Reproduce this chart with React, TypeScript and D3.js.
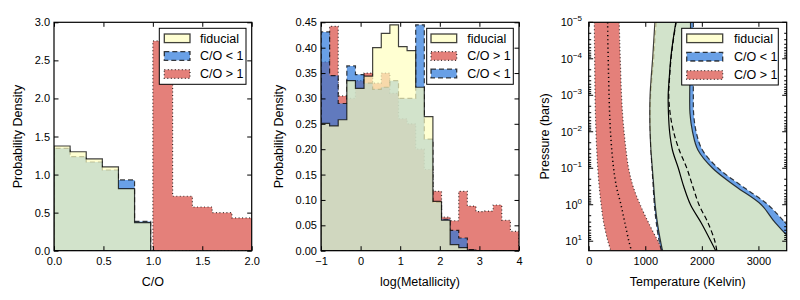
import React, { useEffect, useRef } from "react";
import * as d3 from "d3";

const FONT = "'Liberation Sans', Arial, Helvetica, sans-serif";
const TOP = 22.3;
const BOTTOM = 250.7;

// colours (matplotlib-like, drawn with alpha)
const YELLOW = "#ffffbf";
const BLUE = "#2a77db";
const RED = "#d84a41";
const ALPHA = 0.7;
const DASH = "5,3";
const DOT = "1,2.5";

// ---- panel 1: C/O histograms
const coTicks = [0, 0.5, 1, 1.5, 2];
const coYTicks = [0, 0.5, 1, 1.5, 2, 2.5, 3];
const coEdges = [0, 0.163, 0.326, 0.489, 0.652, 0.815, 0.978];
const coFid = [1.375, 1.3, 1.205, 1.1, 0.815, 0.37];
const coLow = [1.345, 1.235, 1.165, 1.06, 0.93, 0.385];
const coHighEdges = [1.0, 1.2, 1.4, 1.6, 1.8, 2.0, 2.2];
const coHigh = [2.755, 0.715, 0.574, 0.5, 0.43, 0.4];

// ---- panel 2: log(Metallicity) histograms
const metTicks = [-1, 0, 1, 2, 3, 4];
const metYTicks = [0, 0.05, 0.1, 0.15, 0.2, 0.25, 0.3, 0.35, 0.4, 0.45];
const metEdges = [-1, -0.783, -0.565, -0.348, -0.13, 0.087, 0.304, 0.522, 0.739, 0.957, 1.174, 1.391, 1.609, 1.826, 2.043, 2.261, 2.478, 2.696, 2.913, 3.13, 3.348, 3.565, 3.783, 4.0];
const metFid = [0.251, 0.246, 0.258, 0.335, 0.32, 0.344, 0.4, 0.428, 0.445, 0.402, 0.394, 0.322, 0.264, 0.097, 0.06, 0.012, 0.006, 0.001, 0, 0, 0, 0, 0];
const metLow = [0.431, 0.345, 0.29, 0.364, 0.347, 0.33, 0.318, 0.322, 0.335, 0.3, 0.3, 0.445, 0.22, 0.095, 0.062, 0.04, 0.025, 0.002, 0, 0, 0, 0, 0];
const metHigh = [0.372, 0.442, 0.305, 0.3, 0.335, 0.35, 0.33, 0.35, 0.31, 0.26, 0.25, 0.2, 0.16, 0.117, 0.066, 0.059, 0.117, 0.088, 0.077, 0.078, 0.09, 0.06, 0.038];

// ---- panel 3: T-P profiles (log10 pressure levels, temperatures in K)
const tTicks = [0, 1000, 2000, 3000];
const pExp = [-5, -4, -3, -2, -1, 0, 1];
const logP = [-5, -4.5, -4, -3.5, -3, -2.5, -2, -1.5, -1, -0.5, 0, 0.5, 1, 1.26];
const highLeft = [100, 102, 105, 108, 112, 119, 128, 142, 160, 185, 220, 265, 340, 390];
const highMed = [335, 338, 345, 352, 360, 370, 385, 408, 440, 490, 570, 640, 710, 755];
const highRight = [540, 548, 558, 568, 580, 598, 625, 660, 705, 785, 910, 1060, 1225, 1316];
const fidLeft = [1170, 1150, 1130, 1105, 1085, 1080, 1085, 1100, 1125, 1150, 1175, 1215, 1270, 1305];
const fidMed = [1540, 1490, 1450, 1425, 1405, 1410, 1430, 1480, 1585, 1680, 1800, 1990, 2160, 2245];
const fidRight = [1800, 1800, 1795, 1790, 1785, 1790, 1835, 1930, 2190, 2600, 3050, 3300, 3620, 3900];
const lowLeft = [1195, 1170, 1150, 1120, 1095, 1088, 1090, 1100, 1120, 1140, 1160, 1195, 1245, 1285];
const lowMed = [1545, 1495, 1455, 1430, 1415, 1440, 1500, 1600, 1735, 1840, 1950, 2110, 2230, 2265];
const lowRight = [1850, 1850, 1850, 1850, 1850, 1855, 1900, 2010, 2290, 2720, 3170, 3480, 3800, 4000];

const stepPoints = (edges: number[], vals: number[]) => {
  const pts: [number, number][] = [[edges[0], 0]];
  vals.forEach((v, i) => {
    pts.push([edges[i], v]);
    pts.push([edges[i + 1], v]);
  });
  pts.push([edges[edges.length - 1], 0]);
  return pts;
};

const Hist = ({ edges, vals, x, y, color, dash }: any) => {
  const line = d3.line<[number, number]>().x((d) => x(d[0])).y((d) => y(d[1]));
  return (
    <path
      d={line(stepPoints(edges, vals)) + "Z"}
      fill={color}
      fillOpacity={ALPHA}
      stroke="#000"
      strokeOpacity={0.75}
      strokeWidth={1.2}
      strokeDasharray={dash}
    />
  );
};

const AxisG = ({ axis, transform }: any) => {
  const ref = useRef<SVGGElement>(null);
  useEffect(() => {
    const g = d3.select(ref.current);
    g.selectAll("*").remove();
    g.call(axis);
    g.select(".domain").remove();
    g.attr("font-size", 11).attr("font-family", FONT);
    g.selectAll("line").attr("stroke", "#000");
    g.selectAll("text").attr("fill", "#000");
  });
  return <g ref={ref} transform={transform} />;
};

const Frame = ({ x, y, xTicks, yTicks, xFmt, yFmt }: any) => {
  const [l, r] = x.range();
  const tl = 4.5;
  return (
    <g>
      <AxisG transform={`translate(0,${BOTTOM})`} axis={d3.axisBottom(x).tickValues(xTicks).tickFormat(xFmt).tickSize(-tl).tickPadding(7)} />
      <AxisG transform={`translate(0,${TOP})`} axis={d3.axisTop(x).tickValues(xTicks).tickFormat(() => "").tickSize(-tl)} />
      {yTicks && (
        <AxisG transform={`translate(${l},0)`} axis={d3.axisLeft(y).tickValues(yTicks).tickFormat(yFmt).tickSize(-tl).tickPadding(4)} />
      )}
      {yTicks && (
        <AxisG transform={`translate(${r},0)`} axis={d3.axisRight(y).tickValues(yTicks).tickFormat(() => "").tickSize(-tl)} />
      )}
      <rect x={l} y={TOP} width={r - l} height={BOTTOM - TOP} fill="none" stroke="#000" strokeWidth={1.2} />
    </g>
  );
};

const Legend = ({ x0, x1, y0, y1, patchX, patchW, textX, rows, entries }: any) => (
  <g fontFamily={FONT} fontSize={12.5}>
    <rect x={x0} y={y0} width={x1 - x0} height={y1 - y0} fill="#fff" stroke="#000" strokeWidth={1} />
    {entries.map((e: any, i: number) => (
      <g key={e.label}>
        <rect
          x={patchX}
          y={rows[i] - 4.3}
          width={patchW}
          height={8.6}
          fill={e.color}
          fillOpacity={ALPHA}
          stroke="#000"
          strokeOpacity={0.75}
          strokeWidth={1.3}
          strokeDasharray={e.dash}
        />
        <text x={textX} y={rows[i] + 4.4} fill="#000">
          {e.label}
        </text>
      </g>
    ))}
  </g>
);

const fidEntry = { label: "fiducial", color: YELLOW, dash: undefined };
const lowEntry = { label: "C/O < 1", color: BLUE, dash: DASH };
const highEntry = { label: "C/O > 1", color: RED, dash: DOT };

const YLabel = ({ x, text }: any) => (
  <text
    transform={`translate(${x},${(TOP + BOTTOM) / 2}) rotate(-90)`}
    textAnchor="middle"
    fontFamily={FONT}
    fontSize={12.5}
    fill="#000"
  >
    {text}
  </text>
);

const XLabel = ({ x, text }: any) => (
  <text x={x} y={286} textAnchor="middle" fontFamily={FONT} fontSize={12.5} fill="#000">
    {text}
  </text>
);

const App = () => {
  // panel 1
  const x1 = d3.scaleLinear().domain([0, 2]).range([54, 251.7]);
  const y1 = d3.scaleLinear().domain([0, 3]).range([BOTTOM, TOP]);
  // panel 2
  const x2 = d3.scaleLinear().domain([-1, 4]).range([321, 519]);
  const y2 = d3.scaleLinear().domain([0, 0.45]).range([BOTTOM, TOP]);
  // panel 3
  const x3 = d3.scaleLinear().domain([0, 3500]).range([588.7, 786.7]);
  const y3 = d3.scaleLog().domain([1e-5, 10 ** 1.26]).range([TOP, BOTTOM]);

  const idx = d3.range(logP.length);
  const band = (left: number[], right: number[]) =>
    d3
      .area<number>()
      .curve(d3.curveCatmullRom)
      .y((i) => y3(10 ** logP[i]))
      .x0((i) => x3(left[i]))
      .x1((i) => x3(right[i]))(idx) as string;
  const prof = (t: number[]) =>
    d3
      .line<number>()
      .curve(d3.curveCatmullRom)
      .x((i) => x3(t[i]))
      .y((i) => y3(10 ** logP[i]))(idx) as string;

  const edge = { fill: "none", stroke: "#000", strokeOpacity: 0.75, strokeWidth: 1.2 };

  // log minor ticks for pressure axis
  const [pl, pr] = x3.range();
  const minor: number[] = [];
  pExp.forEach((e) => d3.range(2, 10).forEach((m) => {
    const v = m * 10 ** e;
    if (v < 10 ** 1.26) minor.push(v);
  }));

  return (
    <svg width={800} height={300} style={{ position: "absolute", left: 0, top: 0, background: "#fff" }}>
      <defs>
        <clipPath id="c1"><rect x={54} y={TOP} width={197.7} height={BOTTOM - TOP} /></clipPath>
        <clipPath id="c2"><rect x={321} y={TOP} width={198} height={BOTTOM - TOP} /></clipPath>
        <clipPath id="c3"><rect x={588.7} y={TOP} width={198} height={BOTTOM - TOP} /></clipPath>
      </defs>

      {/* panel 1 */}
      <g clipPath="url(#c1)">
        <Hist edges={coHighEdges} vals={coHigh} x={x1} y={y1} color={RED} dash={DOT} />
        <Hist edges={coEdges} vals={coLow} x={x1} y={y1} color={BLUE} dash={DASH} />
        <Hist edges={coEdges} vals={coFid} x={x1} y={y1} color={YELLOW} />
      </g>
      <Frame x={x1} y={y1} xTicks={coTicks} yTicks={coYTicks} xFmt={d3.format(".1f")} yFmt={d3.format(".1f")} />
      <Legend x0={159.3} x1={246} y0={28.3} y1={84.3} patchX={164.3} patchW={25.7} textX={200} rows={[38.3, 56, 74]} entries={[fidEntry, lowEntry, highEntry]} />
      <YLabel x={22.4} text="Probability Density" />
      <XLabel x={152.9} text="C/O" />

      {/* panel 2 */}
      <g clipPath="url(#c2)">
        <Hist edges={metEdges} vals={metHigh} x={x2} y={y2} color={RED} dash={DOT} />
        <Hist edges={metEdges} vals={metLow} x={x2} y={y2} color={BLUE} dash={DASH} />
        <Hist edges={metEdges} vals={metFid} x={x2} y={y2} color={YELLOW} />
      </g>
      <Frame x={x2} y={y2} xTicks={metTicks} yTicks={metYTicks} xFmt={d3.format("d")} yFmt={d3.format(".2f")} />
      <Legend x0={426.7} x1={513.3} y0={28.3} y1={84.3} patchX={431} patchW={25.7} textX={467.3} rows={[38.3, 56, 73.5]} entries={[fidEntry, highEntry, lowEntry]} />
      <YLabel x={283} text="Probability Density" />
      <XLabel x={420} text="log(Metallicity)" />

      {/* panel 3 */}
      <g clipPath="url(#c3)">
        <path d={band(highLeft, highRight)} fill={RED} fillOpacity={ALPHA} />
        <path d={prof(highLeft)} {...edge} strokeDasharray={DOT} />
        <path d={prof(highRight)} {...edge} strokeDasharray={DOT} />
        <path d={prof(highMed)} fill="none" stroke="#000" strokeWidth={1.5} strokeDasharray="1.2,3" />
        <path d={band(lowLeft, lowRight)} fill={BLUE} fillOpacity={ALPHA} />
        <path d={prof(lowLeft)} {...edge} strokeDasharray={DASH} />
        <path d={prof(lowRight)} {...edge} strokeDasharray={DASH} />
        <path d={band(fidLeft, fidRight)} fill={YELLOW} fillOpacity={ALPHA} />
        <path d={prof(fidLeft)} {...edge} />
        <path d={prof(fidRight)} {...edge} />
        <path d={prof(lowMed)} fill="none" stroke="#000" strokeWidth={1.2} strokeDasharray={DASH} />
        <path d={prof(fidMed)} fill="none" stroke="#000" strokeWidth={1.2} />
      </g>
      <Frame x={x3} xTicks={tTicks} xFmt={d3.format("d")} />
      <g stroke="#000" strokeWidth={1}>
        {pExp.map((e) => (
          <g key={e}>
            <line x1={pl} x2={pl + 4.5} y1={y3(10 ** e)} y2={y3(10 ** e)} />
            <line x1={pr - 4.5} x2={pr} y1={y3(10 ** e)} y2={y3(10 ** e)} />
          </g>
        ))}
        {minor.map((v) => (
          <g key={v}>
            <line x1={pl} x2={pl + 2.5} y1={y3(v)} y2={y3(v)} />
            <line x1={pr - 2.5} x2={pr} y1={y3(v)} y2={y3(v)} />
          </g>
        ))}
      </g>
      <g fontFamily={FONT} fill="#000" textAnchor="end">
        {pExp.map((e) => (
          <text key={e} x={582} y={y3(10 ** e) + 3.9} fontSize={11}>
            10
            <tspan dy={-5} fontSize={8}>{e < 0 ? `\u2212${-e}` : `${e}`}</tspan>
          </text>
        ))}
      </g>
      <Legend x0={681.7} x1={778.3} y0={28.3} y1={85} patchX={686.7} patchW={36} textX={734} rows={[38.3, 56.7, 75]} entries={[fidEntry, lowEntry, highEntry]} />
      <YLabel x={548.5} text="Pressure (bars)" />
      <XLabel x={687.7} text="Temperature (Kelvin)" />
    </svg>
  );
};

export default App;
